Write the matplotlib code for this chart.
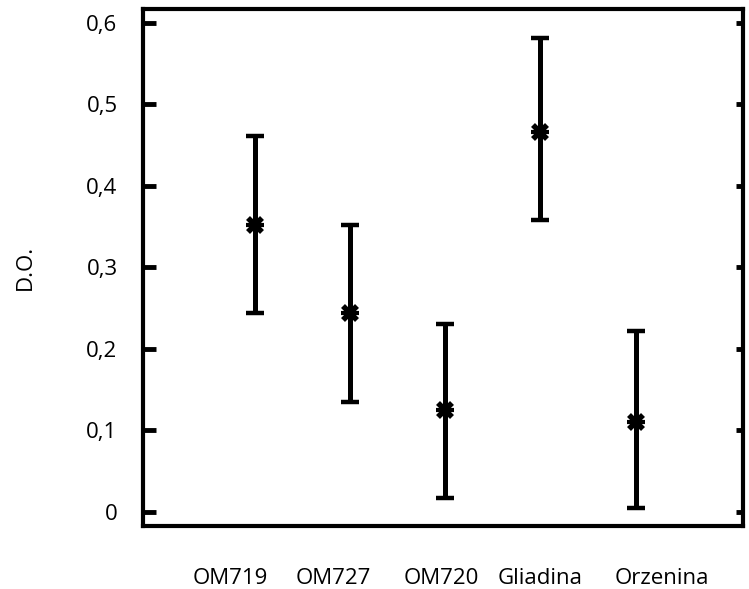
import matplotlib
matplotlib.use("Agg")
import matplotlib.pyplot as plt
import numpy as np

categories = ["OM719", "OM727", "OM720", "Gliadina", "Orzenina"]
means = [0.352, 0.244, 0.125, 0.466, 0.110]
lower = [0.244, 0.135, 0.017, 0.358, 0.005]
upper = [0.461, 0.352, 0.230, 0.581, 0.222]
label_pos = [0.74, 1.83, 2.96, 4.0, 5.27]
yticks = [0, 0.1, 0.2, 0.3, 0.4, 0.5, 0.6]
ytick_labels = ["0", "0,1", "0,2", "0,3", "0,4", "0,5", "0,6"]

plt.rcParams['font.family'] = ['Open Sans', 'DejaVu Sans']

fig = plt.figure(figsize=(7.49, 5.89), dpi=100)
ax = fig.add_axes([0.1903, 0.1070, 0.8017, 0.8769])

x = np.arange(1, len(categories) + 1)
m = np.array(means)
err = np.vstack([m - np.array(lower), np.array(upper) - m])
ax.errorbar(x, m, yerr=err, fmt='none', ecolor='black', elinewidth=3.6,
            capsize=6.5, capthick=3.2, zorder=2)
ax.plot(x, m, linestyle='none', marker='x', markersize=10,
        markeredgewidth=4, color='black', zorder=3)
ax.plot(x, m, linestyle='none', marker='_', markersize=13,
        markeredgewidth=3, color='black', zorder=3)

ax.set_xlim(-0.178, 6.127)
ax.set_ylim(-0.0172, 0.616)

for s in ax.spines.values():
    s.set_linewidth(3)
    s.set_color('black')

ax.set_yticks(yticks)
ax.set_yticklabels(ytick_labels, fontsize=16)
ax.tick_params(axis='y', direction='in', length=9, width=3.5, pad=18,
               left=True, right=False)

ax2 = ax.twinx()
ax2.set_ylim(ax.get_ylim())
ax2.set_yticks(yticks)
ax2.tick_params(axis='y', direction='in', length=5, width=3.5, labelright=False)
for s in ax2.spines.values():
    s.set_visible(False)

ax.set_xticks(label_pos)
ax.set_xticklabels(categories, fontsize=16)
ax.tick_params(axis='x', length=0, pad=30)

ax.set_ylabel("D.O.", fontsize=16, labelpad=36)

fig.savefig("out.png", dpi=100)
